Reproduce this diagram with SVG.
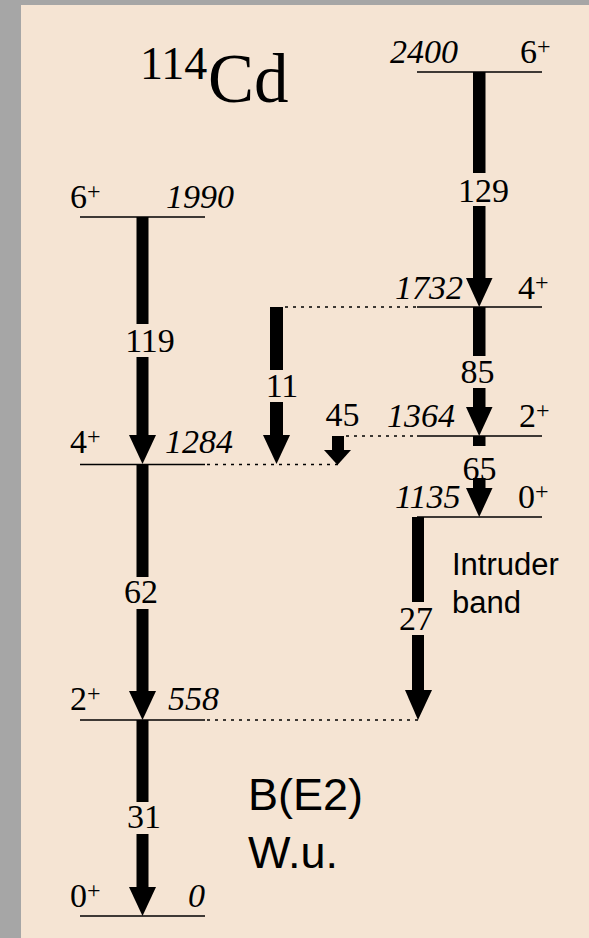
<svg xmlns="http://www.w3.org/2000/svg" width="589" height="938" viewBox="0 0 589 938">
<defs>
<style>
.lv{stroke:#000;stroke-width:1.6;fill:none}
.dt{stroke:#000;stroke-width:1.6;fill:none;stroke-dasharray:3,5}
.bar{fill:#000}
.t{font-family:"Liberation Serif","Times New Roman",serif;font-size:34px;fill:#000}
.i{font-style:italic}
.sup{font-size:24px}
.s{font-family:"Liberation Sans",Arial,sans-serif;fill:#000}
</style>
</defs>
<rect x="0" y="0" width="589" height="938" fill="#a6a6a6"/>
<rect x="21" y="5" width="568" height="933" fill="#f5e4d3"/>
<g id="title">
<text class="t" x="140" y="79" style="font-size:46px">114</text>
<text class="t" x="208" y="102" style="font-size:69px">Cd</text>
</g>
<g id="lvl1990">
<line class="lv" x1="80" y1="217" x2="205" y2="217"/>
<text class="t" x="70" y="208">6<tspan class="sup" dy="-9">+</tspan></text>
<text class="t i" x="166" y="208">1990</text>
</g>
<g id="lvl1284">
<line class="lv" x1="80" y1="464.5" x2="205" y2="464.5"/>
<text class="t" x="70" y="453">4<tspan class="sup" dy="-9">+</tspan></text>
<text class="t i" x="165" y="453">1284</text>
</g>
<g id="lvl558">
<line class="lv" x1="80" y1="720" x2="205" y2="720"/>
<text class="t" x="70" y="710">2<tspan class="sup" dy="-9">+</tspan></text>
<text class="t i" x="168" y="710">558</text>
</g>
<g id="lvl0">
<line class="lv" x1="80" y1="916" x2="205" y2="916"/>
<text class="t" x="70" y="907">0<tspan class="sup" dy="-9">+</tspan></text>
<text class="t i" x="188" y="907">0</text>
</g>
<g id="lvl2400">
<line class="lv" x1="417" y1="72" x2="542" y2="72"/>
<text class="t i" x="390" y="63">2400</text>
<text class="t" x="520" y="63">6<tspan class="sup" dy="-9">+</tspan></text>
</g>
<g id="lvl1732">
<line class="lv" x1="417" y1="307" x2="542" y2="307"/>
<text class="t i" x="395" y="299">1732</text>
<text class="t" x="518" y="299">4<tspan class="sup" dy="-9">+</tspan></text>
</g>
<g id="lvl1364">
<line class="lv" x1="417" y1="436" x2="542" y2="436"/>
<text class="t i" x="387" y="427">1364</text>
<text class="t" x="519" y="427">2<tspan class="sup" dy="-9">+</tspan></text>
</g>
<g id="lvl1135">
<line class="lv" x1="417" y1="517" x2="542" y2="517"/>
<text class="t i" x="395" y="508">1135</text>
<text class="t" x="518" y="508">0<tspan class="sup" dy="-9">+</tspan></text>
</g>
<g id="connectors">
<line class="dt" x1="207" y1="464.5" x2="338" y2="464.5"/>
<line class="dt" x1="207" y1="720" x2="418" y2="720"/>
<line class="dt" x1="285" y1="307" x2="417" y2="307"/>
<line class="dt" x1="346" y1="436" x2="417" y2="436"/>
<!-- 1990 -> 1284 -->
<rect class="bar" x="136.5" y="217" width="12" height="107"/>
<rect class="bar" x="136.5" y="357" width="12" height="79"/>
<polygon class="bar" points="129,435 156,435 142.5,464"/>
<text class="t" x="150" y="352" text-anchor="middle">119</text>
<!-- 1284 -> 558 -->
<rect class="bar" x="136.5" y="464" width="12" height="113"/>
<rect class="bar" x="136.5" y="609" width="12" height="83"/>
<polygon class="bar" points="129,691 156,691 142.5,720"/>
<text class="t" x="141" y="603" text-anchor="middle">62</text>
<!-- 558 -> 0 -->
<rect class="bar" x="136.5" y="720" width="12" height="82"/>
<rect class="bar" x="136.5" y="834" width="12" height="54"/>
<polygon class="bar" points="129,887 156,887 142.5,916"/>
<text class="t" x="144" y="828" text-anchor="middle">31</text>
<!-- 2400 -> 1732 -->
<rect class="bar" x="473" y="72" width="12.5" height="101"/>
<rect class="bar" x="473" y="206" width="12.5" height="73"/>
<polygon class="bar" points="466,278 492.5,278 479.2,307"/>
<text class="t" x="483.5" y="202" text-anchor="middle">129</text>
<!-- 1732 -> 1364 -->
<rect class="bar" x="473" y="307" width="12.5" height="49"/>
<rect class="bar" x="473" y="388" width="12.5" height="20"/>
<polygon class="bar" points="466,407 492.5,407 479.2,436"/>
<text class="t" x="477.5" y="383" text-anchor="middle">85</text>
<!-- 1364 -> 1135 -->
<rect class="bar" x="473" y="436" width="12.5" height="10"/>
<rect class="bar" x="473" y="478" width="12.5" height="11"/>
<polygon class="bar" points="466,488 492.5,488 479.2,517"/>
<text class="t" x="479.5" y="480" text-anchor="middle">65</text>
<!-- 1732 -> 1284 -->
<rect class="bar" x="270" y="307" width="13" height="63"/>
<rect class="bar" x="270" y="402" width="13" height="34"/>
<polygon class="bar" points="263,435 290,435 276.5,464"/>
<text class="t" x="282" y="397" text-anchor="middle">11</text>
<!-- 1364 -> 1284 -->
<rect class="bar" x="332" y="436" width="12" height="15"/>
<polygon class="bar" points="324,450 351,450 337.5,465"/>
<text class="t" x="342.5" y="426" text-anchor="middle">45</text>
<!-- 1135 -> 558 -->
<rect class="bar" x="412" y="517" width="12" height="85"/>
<rect class="bar" x="412" y="635" width="12" height="56"/>
<polygon class="bar" points="405,690 432,690 418,720"/>
<text class="t" x="416" y="630" text-anchor="middle">27</text>
</g>
<g id="intruder">
<text class="s" x="452" y="575" font-size="31">Intruder</text>
<text class="s" x="452" y="613" font-size="31">band</text>
</g>
<g id="be2">
<text class="s" x="248" y="810" font-size="45">B(E2)</text>
<text class="s" x="248" y="868" font-size="45">W.u.</text>
</g>
</svg>
